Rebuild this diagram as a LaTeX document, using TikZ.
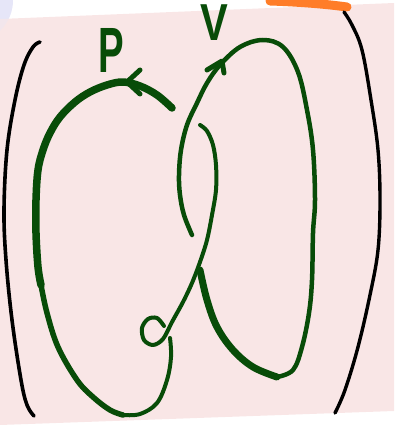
\documentclass[tikz,border=0pt]{standalone}
\usepackage{fontspec}
\setmainfont{Liberation Sans}
\definecolor{inkgreen}{RGB}{8,76,8}
\definecolor{pinkbg}{RGB}{249,230,230}
\definecolor{lav}{RGB}{230,230,248}
\definecolor{orangemark}{RGB}{255,125,40}
\begin{document}
\begin{tikzpicture}[x=1pt,y=-1pt,line cap=round,line join=round,
  ink/.style={draw=inkgreen},
  paren/.style={draw=black,line width=3.6pt},
  lbl/.style={text=inkgreen,inner sep=0pt,anchor=base}]
\useasboundingbox (0,0) rectangle (394,430);
\clip (0,0) rectangle (394,430);
% background
\fill[lav] (-30,0) circle[radius=43pt];
\fill[pinkbg] (0,19) -- (394,3) -- (394,411) -- (0,425) -- cycle;
\fill[lav,opacity=0.35] (-30,0) circle[radius=43pt];
% orange mark
\draw[orangemark,line width=9pt] (270,1) .. controls (300,2) and (325,4) .. (347,7);
% parentheses
\draw[paren] plot[smooth,tension=0.6] coordinates {(40,42) (33,47) (24,65) (15,100) (7,150) (4,210) (6,260) (12,320) (21,380) (27,405) (34,416)};
\draw[paren,line width=3.4pt] plot[smooth,tension=0.6] coordinates {(344,12) (352,25) (362,50) (371,100) (378,150) (380,200) (378,250) (370,295) (358,347) (345,390) (335,413)};
% loop P : top arc and left side
\draw[ink,line width=7.5pt] plot[smooth,tension=0.6] coordinates {(172,108) (157,95) (140,86) (123,82) (107,85) (90,92) (75,102) (60,117) (50,133) (43,150) (38,170) (36,200) (36,233) (38,267) (41,285)};
\draw[ink,line width=5.5pt] plot[smooth,tension=0.6] coordinates {(41,285) (47,313) (58,347) (77,380) (93,397) (110,410) (123,415)};
\draw[ink,line width=4pt] plot[smooth,tension=0.6] coordinates {(123,415) (140,414) (157,403) (167,380) (171,357) (170,338)};
% loop P : curl and long strand
\draw[ink,line width=4pt] plot[smooth,tension=0.55] coordinates {(164,326) (157,318) (148,319) (142,328) (144,340) (153,345) (163,339) (172,322) (183,302) (192,283) (200,262) (207,240) (212,215) (216,190) (216,165) (213,145) (207,131) (200,125)};
% arrow on P
\draw[ink,line width=5pt] (140,70) -- (127,82) -- (140,94);
% loop V
\draw[ink,line width=7pt] plot[smooth,tension=0.6] coordinates {(200,270) (207,300) (217,327) (233,350) (253,367) (277,377)};
\draw[ink,line width=4.5pt] plot[smooth,tension=0.6] coordinates {(277,377) (293,370) (302,347) (309,313) (312,280) (313,233) (315,200) (313,150) (307,110) (298,72) (283,47) (263,40) (240,47) (220,65) (207,83) (197,103) (187,125) (181,150) (179,175) (180,195) (184,215) (192,235)};
% arrow on V
\draw[ink,line width=5pt] (207,70) -- (222,61) -- (224,73);
% labels
\node[lbl,xscale=0.6,font=\bfseries\fontsize{64}{64}\selectfont] at (111,73) {P};
\node[lbl,xscale=0.8,font=\bfseries\fontsize{52}{52}\selectfont] at (214,41) {V};
\end{tikzpicture}
\end{document}
